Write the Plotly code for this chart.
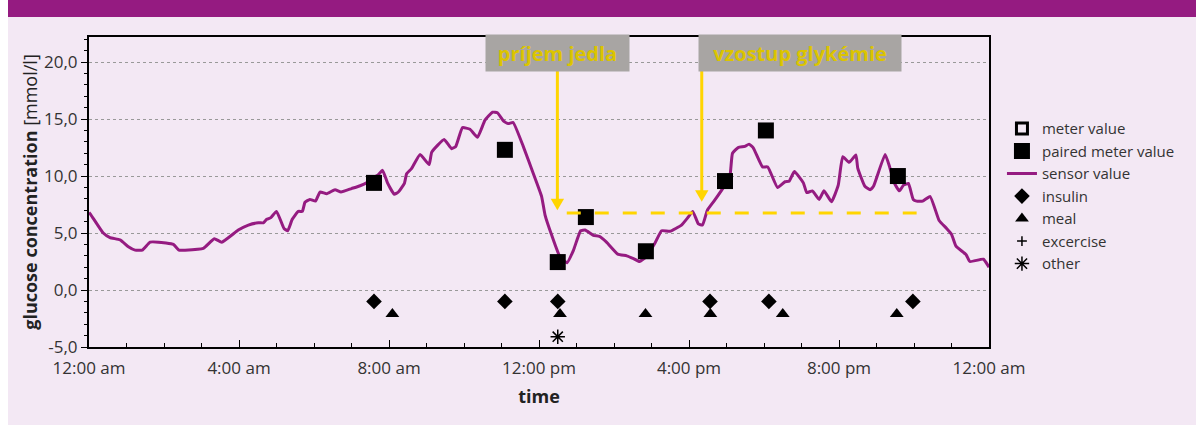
import plotly.graph_objects as go

# ---------------- data ----------------
sensor_hours = [0.0, 0.05, 0.38, 0.56, 0.83, 1.05, 1.23, 1.42, 1.63, 1.85, 2.25, 2.4, 2.56, 3.05, 3.34, 3.54,
                3.98, 4.25, 4.52, 4.65, 4.74, 4.85, 5.0, 5.2, 5.3, 5.42, 5.58, 5.69, 5.76, 5.89, 6.04, 6.16,
                6.34, 6.56, 6.72, 7.0, 7.23, 7.4, 7.58, 7.71, 7.83, 7.96, 8.14, 8.25, 8.41, 8.47, 8.6, 8.83,
                9.07, 9.14, 9.47, 9.67, 9.78, 9.96, 10.16, 10.36, 10.56, 10.76, 10.89, 11.05, 11.18, 11.31,
                11.58, 11.85, 12.07, 12.16, 12.34, 12.56, 12.75, 12.92, 13.11, 13.23, 13.45, 13.61, 13.8,
                14.1, 14.34, 14.52, 14.68, 14.85, 15.09, 15.27, 15.49, 15.8, 15.98, 16.1, 16.25, 16.36,
                16.49, 16.69, 16.96, 17.09, 17.16, 17.31, 17.49, 17.6, 17.71, 17.96, 18.1, 18.36, 18.56,
                18.67, 18.81, 19.05, 19.14, 19.29, 19.47, 19.6, 19.8, 19.98, 20.1, 20.27, 20.45, 20.5,
                20.69, 20.83, 20.92, 21.23, 21.35, 21.48, 21.61, 21.72, 21.85, 21.98, 22.07, 22.23, 22.43,
                22.67, 22.87, 23.0, 23.12, 23.39, 23.49, 23.85, 24.0]
sensor_values = [6.8, 6.6, 5.0, 4.6, 4.4, 3.8, 3.5, 3.5, 4.2, 4.2, 4.0, 3.5, 3.5, 3.65, 4.5, 4.2,
                 5.26, 5.7, 5.9, 5.9, 6.2, 6.35, 6.9, 5.4, 5.2, 6.2, 6.9, 6.9, 7.7, 7.95, 7.8, 8.6,
                 8.45, 8.8, 8.6, 8.9, 9.15, 9.4, 9.85, 10.1, 10.5, 9.4, 8.4, 8.6, 9.35, 10.2, 10.65, 11.9,
                 11.0, 12.1, 13.2, 12.4, 12.6, 14.25, 14.1, 13.4, 14.9, 15.6, 15.55, 14.85, 14.6, 14.7,
                 12.6, 10.2, 8.2, 6.6, 4.8, 2.9, 2.4, 3.5, 5.2, 5.26, 4.8, 4.7, 4.2,
                 3.15, 3.0, 2.75, 2.5, 2.9, 4.1, 5.2, 5.15, 5.7, 6.4, 6.9, 5.8, 5.7,
                 7.0, 7.9, 9.2, 9.95, 12.0, 12.5, 12.6, 12.8, 12.5, 10.8, 10.8, 9.0, 9.5,
                 9.55, 10.4, 9.4, 8.55, 8.7, 7.95, 8.7, 7.75, 9.2, 11.7, 11.2, 11.85, 10.7,
                 9.1, 8.8, 9.1, 11.9, 10.8, 9.35, 8.7, 9.2, 9.35, 7.95, 7.8, 7.8, 8.2,
                 6.1, 5.4, 4.9, 3.85, 3.1, 2.5, 2.7, 2.0]

paired_hours = [7.6, 11.09, 12.5, 13.25, 14.85, 16.96, 18.05, 21.57]
paired_values = [9.4, 12.3, 2.45, 6.4, 3.4, 9.56, 14.0, 10.0]

insulin_hours = [7.6, 11.09, 12.5, 16.56, 18.13, 21.97]
insulin_values = [-1.0, -1.0, -1.0, -1.0, -1.0, -1.0]

meal_hours = [8.09, 12.56, 14.84, 16.57, 18.5, 21.54]
meal_values = [-2.1, -2.1, -2.1, -2.1, -2.1, -2.1]

other_hours = [12.5]
other_values = [-4.1]

tick_hours = [0, 4, 8, 12, 16, 20, 24]
tick_labels = ["12:00 am", "4:00 am", "8:00 am", "12:00 pm", "4:00 pm", "8:00 pm", "12:00 am"]
y_tick_values = [-5, 0, 5, 10, 15, 20]
y_tick_labels = ["-5,0", "0,0", "5,0", "10,0", "15,0", "20,0"]

# callouts: label, box centre hour, arrow hour, arrow tip value
callout_labels = ["príjem jedla", "vzostup glykémie"]
callout_box_hours = [12.5, 18.96]
callout_box_widths = [141, 200]
callout_arrow_hours = [12.49, 16.34]
callout_tip_values = [7.0, 7.75]
threshold_value = 6.75
threshold_hours = [12.74, 22.07]

# ---------------- styling ----------------
PURPLE = "#951B81"
BG = "#F3E8F4"
YELLOW = "#FFD500"
TEXT_YELLOW = "#DCC400"
BOX_GREY = "#A8A5A3"
FONT = "Open Sans"

fig = go.Figure()

fig.add_trace(go.Scatter(x=[None], y=[None], mode="markers", name="meter value", legendrank=1,
                         marker=dict(symbol="square-open", size=11, color="black", line=dict(width=3, color="black"))))
fig.add_trace(go.Scatter(x=sensor_hours, y=sensor_values, mode="lines", name="sensor value", legendrank=3,
                         line=dict(color=PURPLE, width=3, shape="spline", smoothing=0.4)))
fig.add_trace(go.Scatter(x=paired_hours, y=paired_values, mode="markers", name="paired meter value", legendrank=2,
                         marker=dict(symbol="square", size=16, color="black")))
fig.add_trace(go.Scatter(x=insulin_hours, y=insulin_values, mode="markers", name="insulin", legendrank=4,
                         marker=dict(symbol="diamond", size=12, color="black")))
fig.add_trace(go.Scatter(x=meal_hours, y=meal_values, mode="markers", name="meal", legendrank=5,
                         marker=dict(symbol="triangle-up", size=12, color="black")))
fig.add_trace(go.Scatter(x=[None], y=[None], mode="markers", name="excercise", legendrank=6,
                         marker=dict(symbol="cross-thin-open", size=7, color="black", line=dict(width=1.5, color="black"))))
fig.add_trace(go.Scatter(x=other_hours, y=other_values, mode="markers", name="other", legendrank=7,
                         marker=dict(symbol="asterisk-open", size=12, color="black", line=dict(width=1.5, color="black"))))

shapes = []
# page background and top band (paper coords: 1px = 1/900 in x, 1/310 in y)
shapes.append(dict(type="rect", xref="paper", yref="paper", x0=-81/900, x1=1.25, y0=-0.26, y1=330/310,
                   fillcolor=BG, line=dict(width=0), layer="below"))
shapes.append(dict(type="rect", xref="paper", yref="paper", x0=-81/900, x1=1.25, y0=330/310, y1=1.13,
                   fillcolor=PURPLE, line=dict(width=0), layer="below"))
# threshold dashed line
shapes.append(dict(type="line", xref="x", yref="y", x0=threshold_hours[0], x1=threshold_hours[1],
                   y0=threshold_value, y1=threshold_value,
                   line=dict(color=YELLOW, width=3, dash="14px,14px"), layer="above"))

box_bottom = 19.3
for ah, tv in zip(callout_arrow_hours, callout_tip_values):
    head_h = 1.0
    shapes.append(dict(type="line", xref="x", yref="y", x0=ah, x1=ah, y0=box_bottom, y1=tv + head_h * 0.5,
                       line=dict(color=YELLOW, width=3), layer="above"))
    hw = 6.7 / 37.5
    shapes.append(dict(type="path", xref="x", yref="y",
                       path=f"M {ah - hw} {tv + head_h} L {ah + hw} {tv + head_h} L {ah} {tv} Z",
                       fillcolor=YELLOW, line=dict(width=0), layer="above"))

annotations = []
for lab, bh, bw in zip(callout_labels, callout_box_hours, callout_box_widths):
    annotations.append(dict(x=bh, y=20.8, xref="x", yref="y", text=f"<b>{lab}</b>", showarrow=False,
                            bgcolor=BOX_GREY, width=bw, height=34, align="center",
                            font=dict(family=FONT, size=20, color=TEXT_YELLOW)))

fig.update_layout(
    width=1196, height=425,
    margin=dict(l=81, r=215, t=37, b=78),
    paper_bgcolor="white",
    plot_bgcolor="rgba(0,0,0,0)",
    font=dict(family=FONT, size=17, color="#333333"),
    shapes=shapes,
    annotations=annotations,
    showlegend=True,
    legend=dict(x=1.0144, y=0.757, xanchor="left", yanchor="top", bgcolor="rgba(0,0,0,0)",
                font=dict(family=FONT, size=15, color="#333333"), tracegroupgap=0,
                traceorder="normal"),
    xaxis=dict(range=[0, 24], tickvals=tick_hours, ticktext=tick_labels, ticks="inside", ticklen=7,
               tickwidth=1, tickcolor="black", showline=True, linecolor="black", linewidth=2, mirror=True,
               showgrid=False, zeroline=False, ticklabelstandoff=5,
               minor=dict(dtick=1, ticks="inside", ticklen=4, tickcolor="black", showgrid=False),
               title=dict(text="<b>time</b>", font=dict(family=FONT, size=18, color="#222222"), standoff=12),
               tickfont=dict(family=FONT, size=17, color="#333333")),
    yaxis=dict(range=[-5, 22.2], tickvals=y_tick_values, ticktext=y_tick_labels, ticks="outside", ticklen=6,
               tickwidth=1, tickcolor="black", showline=True, linecolor="black", linewidth=2, mirror=True,
               showgrid=True, gridcolor="#999999", griddash="dot", gridwidth=1, zeroline=False,
               minor=dict(dtick=1, tick0=0, ticks="outside", ticklen=3, tickcolor="black", showgrid=False),
               title=dict(text="<b>glucose concentration</b> [mmol/l]",
                          font=dict(family=FONT, size=18, color="#222222"), standoff=2),
               tickfont=dict(family=FONT, size=17, color="#333333")),
)

fig.write_html("out.html", post_script="document.body.style.marginTop='0px';")
